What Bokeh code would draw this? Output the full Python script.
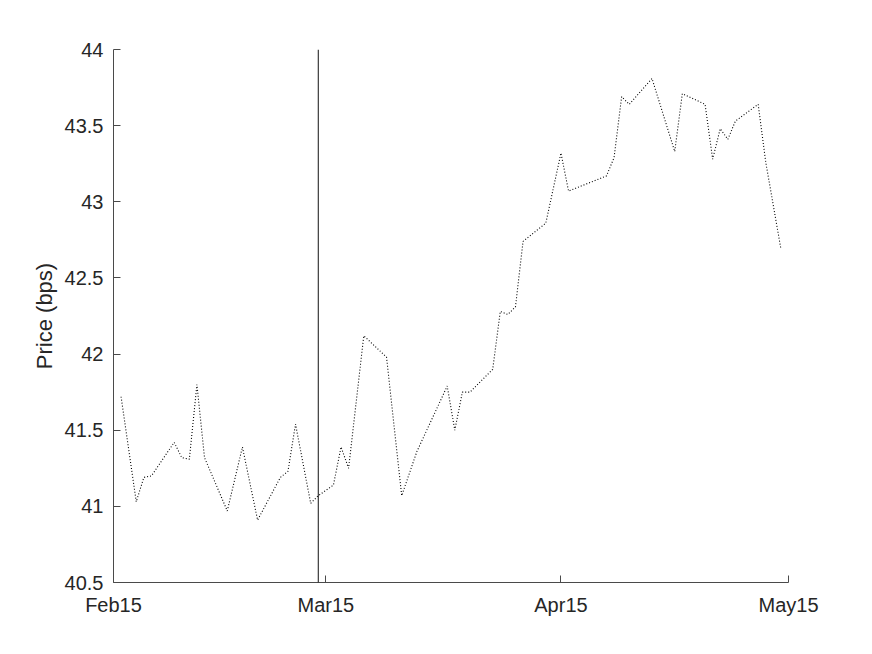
import pandas as pd
from bokeh.plotting import figure
from bokeh.models import Span, FixedTicker, Range1d
from bokeh.embed import file_html
from bokeh.resources import INLINE

# ---- data ----
dates = [
    "2015-02-16", "2015-02-18", "2015-02-19", "2015-02-20", "2015-02-23", "2015-02-24",
    "2015-02-25", "2015-02-26", "2015-02-27", "2015-03-02", "2015-03-04", "2015-03-06",
    "2015-03-09", "2015-03-10", "2015-03-11", "2015-03-13", "2015-03-14", "2015-03-16",
    "2015-03-17", "2015-03-18", "2015-03-20", "2015-03-23", "2015-03-25", "2015-03-27",
    "2015-03-31", "2015-04-01", "2015-04-02", "2015-04-03", "2015-04-06", "2015-04-07",
    "2015-04-08", "2015-04-09", "2015-04-10", "2015-04-13", "2015-04-15", "2015-04-16",
    "2015-04-21", "2015-04-22", "2015-04-23", "2015-04-24", "2015-04-27", "2015-04-30",
    "2015-05-01", "2015-05-04", "2015-05-05", "2015-05-06", "2015-05-07", "2015-05-08",
    "2015-05-11", "2015-05-12", "2015-05-14",
]
prices = [
    41.72, 41.03, 41.19, 41.20, 41.42, 41.32, 41.31, 41.80, 41.32,
    40.97, 41.39, 40.91, 41.19, 41.23, 41.54, 41.02, 41.07, 41.14, 41.39, 41.25,
    42.12, 41.98, 41.07, 41.36, 41.79,
    41.50, 41.75, 41.75, 41.90, 42.28, 42.26, 42.31, 42.74, 42.86, 43.32, 43.07,
    43.17, 43.29, 43.69, 43.64, 43.81, 43.33,
    43.71, 43.64, 43.28, 43.48, 43.41, 43.53, 43.64, 43.26, 42.69,
]
event_date = "2015-03-14"

x_tick_dates = ["2015-02-15", "2015-03-15", "2015-04-15", "2015-05-15"]
x_tick_labels = ["Feb15", "Mar15", "Apr15", "May15"]
y_ticks = [40.5, 41.0, 41.5, 42.0, 42.5, 43.0, 43.5, 44.0]
y_tick_labels = ["40.5", "41", "41.5", "42", "42.5", "43", "43.5", "44"]
y_label = "Price (bps)"

# ---- helpers ----
def to_ms(s):
    return pd.Timestamp(s).value / 1e6

x = [pd.Timestamp(d) for d in dates]
xt = [to_ms(d) for d in x_tick_dates]

FONT = "Liberation Sans"
TXT = "#262626"
AX = "#4a4a4a"

p = figure(
    width=840, height=630,
    x_axis_type="datetime",
    output_backend="svg", toolbar_location=None,
    x_range=Range1d(start=pd.Timestamp(x_tick_dates[0]), end=pd.Timestamp(x_tick_dates[-1])),
    y_range=Range1d(start=y_ticks[0], end=y_ticks[-1]),
)
p.min_border_left = 113
p.min_border_right = 52
p.min_border_top = 49
p.min_border_bottom = 48
p.outline_line_color = None
p.background_fill_color = "white"
p.border_fill_color = "white"
p.xgrid.visible = False
p.ygrid.visible = False

p.line(x, prices, line_color="black", line_width=1.1, line_dash="1 2")

p.add_layout(Span(location=pd.Timestamp(event_date), dimension="height",
                  line_color="#111111", line_width=1))

# x axis
xa = p.xaxis[0]
xa.ticker = FixedTicker(ticks=xt)
xa.major_label_overrides = {t: lab for t, lab in zip(xt, x_tick_labels)}
xa.minor_tick_line_color = None
xa.major_tick_in = 7
xa.major_tick_out = 0
xa.major_label_standoff = 11
xa.axis_line_color = AX
xa.major_tick_line_color = AX
xa.major_label_text_font = FONT
xa.major_label_text_font_size = "20px"
xa.major_label_text_color = TXT

# y axis
ya = p.yaxis[0]
ya.ticker = FixedTicker(ticks=y_ticks)
ya.major_label_overrides = {t: lab for t, lab in zip(y_ticks, y_tick_labels)}
ya.minor_tick_line_color = None
ya.major_tick_in = 7
ya.major_tick_out = 0
ya.major_label_standoff = 10
ya.axis_line_color = AX
ya.major_tick_line_color = AX
ya.major_label_text_font = FONT
ya.major_label_text_font_size = "20px"
ya.major_label_text_color = TXT
ya.axis_label = y_label
ya.axis_label_text_font = FONT
ya.axis_label_text_font_size = "22px"
ya.axis_label_text_font_style = "normal"
ya.axis_label_text_color = TXT
ya.axis_label_standoff = 5

open("out.html", "w").write(file_html(p, INLINE))
